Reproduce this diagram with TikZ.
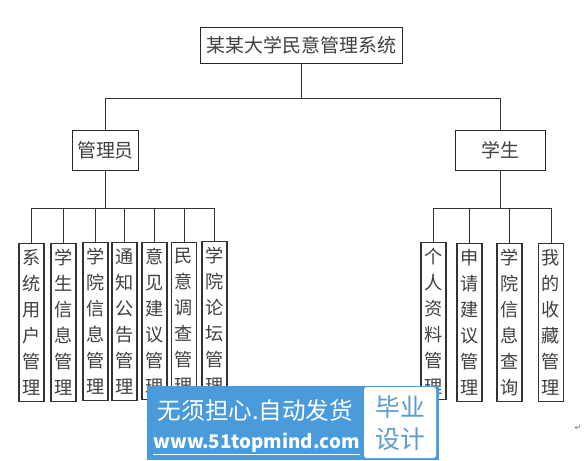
\documentclass[tikz,border=0pt]{standalone}
\usepackage{fontspec}
\setmainfont{Noto Sans CJK SC}
\newfontfamily\markfont{DejaVu Sans}
\definecolor{wmblue}{HTML}{4A9BDB}
\definecolor{wmtext}{HTML}{5A9CCF}
\tikzset{
  px/.style={x=0.75pt,y=-0.75pt},
  headbox/.style={draw=black!85,line width=0.75pt,fill=white,inner sep=0pt,text=black!75,font=\fontsize{14.2pt}{18pt}\selectfont},
  leafbox/.style={draw=black!80,line width=0.85pt,fill=white,inner sep=0pt,minimum width=18.75pt,minimum height=118pt,align=center,text=black!75,font=\fontsize{13.6pt}{19.5pt}\selectfont},
  link/.style={draw=black!80,line width=0.75pt},
  bluetext/.style={text=white,inner sep=0pt},
  badgetext/.style={text=wmtext,font=\fontsize{18.6pt}{24pt}\selectfont,inner sep=0pt}
}
\begin{document}
\begin{tikzpicture}[px]
\useasboundingbox (0,0) rectangle (588,460);
\fill[white] (0,0) rectangle (588,460);
% head boxes
\node[headbox,minimum width=151pt,minimum height=26.5pt] (top) at (301.5,45.5) {某某大学民意管理系统};
\node[headbox,minimum width=50pt,minimum height=30pt] (admin) at (105.5,150.5) {管理员};
\node[headbox,minimum width=67.5pt,minimum height=30pt] (student) at (500,150.5) {学生};
% leaf boxes
\node[leafbox] (a1) at (31.5,322.5) {系\\统\\用\\户\\管\\理};
\node[leafbox] (a2) at (63.5,322.5) {学\\生\\信\\息\\管\\理};
\node[leafbox] (a3) at (95.5,321.5) {学\\院\\信\\息\\管\\理};
\node[leafbox] (a4) at (124.5,321.5) {通\\知\\公\\告\\管\\理};
\node[leafbox] (a5) at (154.5,321) {意\\见\\建\\议\\管\\理};
\node[leafbox] (a6) at (184,321) {民\\意\\调\\查\\管\\理};
\node[leafbox] (a7) at (214.5,320.5) {学\\院\\论\\坛\\管\\理};
\node[leafbox] (s1) at (433.5,321) {个\\人\\资\\料\\管\\理};
\node[leafbox] (s2) at (469.5,322.5) {申\\请\\建\\议\\管\\理};
\node[leafbox] (s3) at (509.5,322.5) {学\\院\\信\\息\\查\\询};
\node[leafbox] (s4) at (551,322.5) {我\\的\\收\\藏\\管\\理};
% junctions
\coordinate (rootbus) at (301.5,98.5);
\coordinate (adminbus) at (105.5,208.5);
\coordinate (studentbus) at (500,208.5);
% connectors
\draw[link] (top.south) -- (rootbus);
\draw[link] (rootbus) -| (admin.north);
\draw[link] (rootbus) -| (student.north);
\draw[link] (admin.south) -- (adminbus);
\draw[link] (student.south) -- (studentbus);
\foreach \n in {a1,a2,a3,a4,a5,a6,a7} \draw[link] (adminbus) -| (\n.north);
\foreach \n in {s1,s2,s3,s4} \draw[link] (studentbus) -| (\n.north);
% return mark
\node[text=black!55,font=\markfont\fontsize{6pt}{7pt}\selectfont,inner sep=0pt] (ret) at (578,428) {↵};
% watermark
\fill[wmblue] (147,386) rectangle (439,460);
\fill[white,rounded corners=2pt] (364,387) rectangle (436,458);
\node[bluetext,font=\fontsize{17.7pt}{20pt}\selectfont] (wm1) at (255.5,411) {无须担心.自动发货};
\node[bluetext,font=\bfseries\fontsize{14.1pt}{18pt}\selectfont] (wm2) at (256.5,443) {www.51topmind.com};
\draw[white,line width=0.6pt] ([yshift=-1.1pt]wm2.south west) -- ([yshift=-1.1pt]wm2.south east);
\node[badgetext] (wm3) at (400,407) {毕业};
\node[badgetext] (wm4) at (400,439) {设计};
\end{tikzpicture}
\end{document}
